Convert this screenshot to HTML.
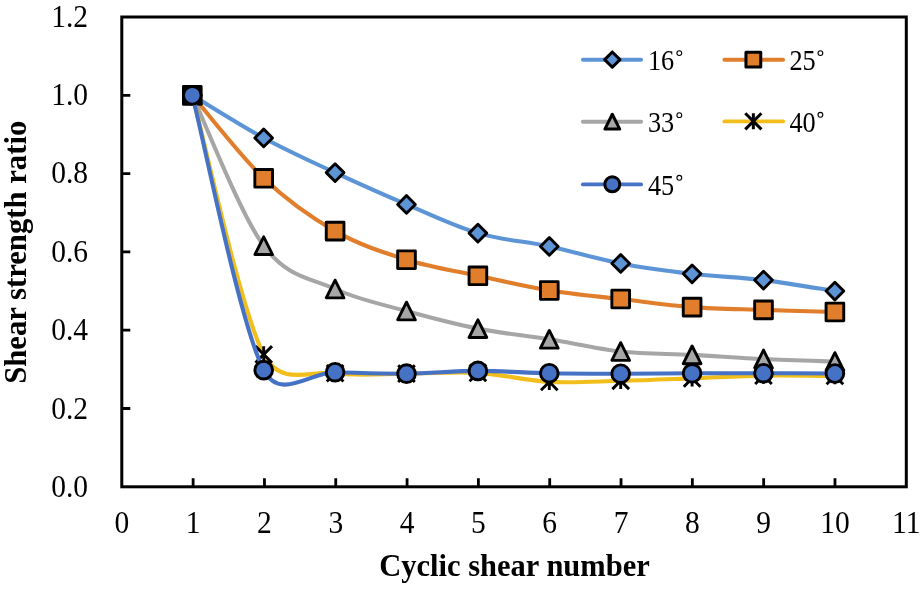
<!DOCTYPE html>
<html><head><meta charset="utf-8"><title>Shear strength ratio vs cyclic shear number</title>
<style>html,body{margin:0;padding:0;background:#fff;}svg{display:block;}text{font-family:"Liberation Serif",serif;}</style></head>
<body>
<svg width="923" height="589" viewBox="0 0 923 589" style="filter:blur(0.35px)">
<rect width="923" height="589" fill="#fff"/>
<rect x="121.80" y="17.00" width="784.50" height="469.80" fill="none" stroke="#000" stroke-width="3"/>
<path d="M193.12,486.80 V478.30 M264.44,486.80 V478.30 M335.75,486.80 V478.30 M407.07,486.80 V478.30 M478.39,486.80 V478.30 M549.71,486.80 V478.30 M621.03,486.80 V478.30 M692.35,486.80 V478.30 M763.66,486.80 V478.30 M834.98,486.80 V478.30 M121.80,408.50 H130.30 M121.80,330.20 H130.30 M121.80,251.90 H130.30 M121.80,173.60 H130.30 M121.80,95.30 H130.30" stroke="#000" stroke-width="2.8" fill="none"/>
<g font-family="'Liberation Serif', serif" font-size="29.5" fill="#000">
<text transform="translate(121.80,533.0) scale(1,1.07)" text-anchor="middle">0</text>
<text transform="translate(193.12,533.0) scale(1,1.07)" text-anchor="middle">1</text>
<text transform="translate(264.44,533.0) scale(1,1.07)" text-anchor="middle">2</text>
<text transform="translate(335.75,533.0) scale(1,1.07)" text-anchor="middle">3</text>
<text transform="translate(407.07,533.0) scale(1,1.07)" text-anchor="middle">4</text>
<text transform="translate(478.39,533.0) scale(1,1.07)" text-anchor="middle">5</text>
<text transform="translate(549.71,533.0) scale(1,1.07)" text-anchor="middle">6</text>
<text transform="translate(621.03,533.0) scale(1,1.07)" text-anchor="middle">7</text>
<text transform="translate(692.35,533.0) scale(1,1.07)" text-anchor="middle">8</text>
<text transform="translate(763.66,533.0) scale(1,1.07)" text-anchor="middle">9</text>
<text transform="translate(834.98,533.0) scale(1,1.07)" text-anchor="middle">10</text>
<text transform="translate(906.30,533.0) scale(1,1.07)" text-anchor="middle">11</text>
<text transform="translate(88,497.10) scale(1,1.07)" text-anchor="end">0.0</text>
<text transform="translate(88,418.68) scale(1,1.07)" text-anchor="end">0.2</text>
<text transform="translate(88,340.26) scale(1,1.07)" text-anchor="end">0.4</text>
<text transform="translate(88,261.84) scale(1,1.07)" text-anchor="end">0.6</text>
<text transform="translate(88,183.42) scale(1,1.07)" text-anchor="end">0.8</text>
<text transform="translate(88,105.00) scale(1,1.07)" text-anchor="end">1.0</text>
<text transform="translate(88,26.58) scale(1,1.07)" text-anchor="end">1.2</text>
</g>
<text x="514.5" y="575.8" text-anchor="middle" font-family="'Liberation Serif', serif" font-weight="bold" font-size="30.5" fill="#000">Cyclic shear number</text>
<text transform="translate(25.6,252.3) rotate(-90)" text-anchor="middle" font-family="'Liberation Serif', serif" font-weight="bold" font-size="30.7" fill="#000">Shear strength ratio</text>
<path d="M192.30,95.30 C204.20,102.41 239.90,125.09 263.70,137.97 C287.50,150.86 311.30,161.55 335.10,172.62 C358.90,183.69 382.70,194.33 406.50,204.41 C430.30,214.49 454.10,226.11 477.90,233.11 C501.70,240.11 525.50,241.37 549.30,246.42 C573.10,251.47 596.90,258.84 620.70,263.41 C644.50,267.98 668.30,271.04 692.10,273.82 C715.90,276.60 739.70,277.21 763.50,280.09 C787.30,282.97 823.00,289.26 834.90,291.09" fill="none" stroke="#5D94D6" stroke-width="4.10" stroke-linecap="round" stroke-linejoin="round"/>
<path d="M192.30,86.45 L201.15,95.30 L192.30,104.15 L183.45,95.30 Z" fill="#5D94D6" stroke="#000" stroke-width="2.90" stroke-linejoin="round"/>
<path d="M263.70,129.12 L272.55,137.97 L263.70,146.82 L254.85,137.97 Z" fill="#5D94D6" stroke="#000" stroke-width="2.90" stroke-linejoin="round"/>
<path d="M335.10,163.77 L343.95,172.62 L335.10,181.47 L326.25,172.62 Z" fill="#5D94D6" stroke="#000" stroke-width="2.90" stroke-linejoin="round"/>
<path d="M406.50,195.56 L415.35,204.41 L406.50,213.26 L397.65,204.41 Z" fill="#5D94D6" stroke="#000" stroke-width="2.90" stroke-linejoin="round"/>
<path d="M477.90,224.26 L486.75,233.11 L477.90,241.96 L469.05,233.11 Z" fill="#5D94D6" stroke="#000" stroke-width="2.90" stroke-linejoin="round"/>
<path d="M549.30,237.57 L558.15,246.42 L549.30,255.27 L540.45,246.42 Z" fill="#5D94D6" stroke="#000" stroke-width="2.90" stroke-linejoin="round"/>
<path d="M620.70,254.56 L629.55,263.41 L620.70,272.26 L611.85,263.41 Z" fill="#5D94D6" stroke="#000" stroke-width="2.90" stroke-linejoin="round"/>
<path d="M692.10,264.97 L700.95,273.82 L692.10,282.67 L683.25,273.82 Z" fill="#5D94D6" stroke="#000" stroke-width="2.90" stroke-linejoin="round"/>
<path d="M763.50,271.24 L772.35,280.09 L763.50,288.94 L754.65,280.09 Z" fill="#5D94D6" stroke="#000" stroke-width="2.90" stroke-linejoin="round"/>
<path d="M834.90,282.24 L843.75,291.09 L834.90,299.94 L826.05,291.09 Z" fill="#5D94D6" stroke="#000" stroke-width="2.90" stroke-linejoin="round"/>
<path d="M192.30,95.30 C204.20,109.13 239.90,155.66 263.70,178.30 C287.50,200.94 311.30,217.58 335.10,231.15 C358.90,244.72 382.70,252.29 406.50,259.73 C430.30,267.17 454.10,270.65 477.90,275.78 C501.70,280.91 525.50,286.63 549.30,290.50 C573.10,294.37 596.90,296.23 620.70,299.00 C644.50,301.76 668.30,305.29 692.10,307.10 C715.90,308.91 739.70,309.03 763.50,309.84 C787.30,310.66 823.00,311.64 834.90,312.00" fill="none" stroke="#E07E2B" stroke-width="4.10" stroke-linecap="round" stroke-linejoin="round"/>
<rect x="183.45" y="86.45" width="17.70" height="17.70" fill="#E07E2B" stroke="#000" stroke-width="2.90" stroke-linejoin="round"/>
<rect x="254.85" y="169.45" width="17.70" height="17.70" fill="#E07E2B" stroke="#000" stroke-width="2.90" stroke-linejoin="round"/>
<rect x="326.25" y="222.30" width="17.70" height="17.70" fill="#E07E2B" stroke="#000" stroke-width="2.90" stroke-linejoin="round"/>
<rect x="397.65" y="250.88" width="17.70" height="17.70" fill="#E07E2B" stroke="#000" stroke-width="2.90" stroke-linejoin="round"/>
<rect x="469.05" y="266.93" width="17.70" height="17.70" fill="#E07E2B" stroke="#000" stroke-width="2.90" stroke-linejoin="round"/>
<rect x="540.45" y="281.65" width="17.70" height="17.70" fill="#E07E2B" stroke="#000" stroke-width="2.90" stroke-linejoin="round"/>
<rect x="611.85" y="290.15" width="17.70" height="17.70" fill="#E07E2B" stroke="#000" stroke-width="2.90" stroke-linejoin="round"/>
<rect x="683.25" y="298.25" width="17.70" height="17.70" fill="#E07E2B" stroke="#000" stroke-width="2.90" stroke-linejoin="round"/>
<rect x="754.65" y="300.99" width="17.70" height="17.70" fill="#E07E2B" stroke="#000" stroke-width="2.90" stroke-linejoin="round"/>
<rect x="826.05" y="303.15" width="17.70" height="17.70" fill="#E07E2B" stroke="#000" stroke-width="2.90" stroke-linejoin="round"/>
<path d="M192.30,95.30 C204.20,120.37 239.90,213.43 263.70,245.71 C287.50,278.00 311.30,278.13 335.10,289.01 C358.90,299.90 382.70,304.41 406.50,311.02 C430.30,317.62 454.10,323.92 477.90,328.63 C501.70,333.35 525.50,335.47 549.30,339.28 C573.10,343.09 596.90,348.90 620.70,351.50 C644.50,354.09 668.30,353.62 692.10,354.86 C715.90,356.11 739.70,357.87 763.50,358.98 C787.30,360.08 823.00,361.10 834.90,361.52" fill="none" stroke="#A6A6A6" stroke-width="4.10" stroke-linecap="round" stroke-linejoin="round"/>
<path d="M192.30,86.45 L201.15,104.15 L183.45,104.15 Z" fill="#A6A6A6" stroke="#000" stroke-width="2.90" stroke-linejoin="round"/>
<path d="M263.70,236.86 L272.55,254.56 L254.85,254.56 Z" fill="#A6A6A6" stroke="#000" stroke-width="2.90" stroke-linejoin="round"/>
<path d="M335.10,280.16 L343.95,297.86 L326.25,297.86 Z" fill="#A6A6A6" stroke="#000" stroke-width="2.90" stroke-linejoin="round"/>
<path d="M406.50,302.17 L415.35,319.87 L397.65,319.87 Z" fill="#A6A6A6" stroke="#000" stroke-width="2.90" stroke-linejoin="round"/>
<path d="M477.90,319.78 L486.75,337.48 L469.05,337.48 Z" fill="#A6A6A6" stroke="#000" stroke-width="2.90" stroke-linejoin="round"/>
<path d="M549.30,330.43 L558.15,348.13 L540.45,348.13 Z" fill="#A6A6A6" stroke="#000" stroke-width="2.90" stroke-linejoin="round"/>
<path d="M620.70,342.65 L629.55,360.35 L611.85,360.35 Z" fill="#A6A6A6" stroke="#000" stroke-width="2.90" stroke-linejoin="round"/>
<path d="M692.10,346.01 L700.95,363.71 L683.25,363.71 Z" fill="#A6A6A6" stroke="#000" stroke-width="2.90" stroke-linejoin="round"/>
<path d="M763.50,350.13 L772.35,367.83 L754.65,367.83 Z" fill="#A6A6A6" stroke="#000" stroke-width="2.90" stroke-linejoin="round"/>
<path d="M834.90,352.67 L843.75,370.37 L826.05,370.37 Z" fill="#A6A6A6" stroke="#000" stroke-width="2.90" stroke-linejoin="round"/>
<path d="M192.30,95.30 C204.20,138.50 239.90,308.15 263.70,354.47 C280.57,387.31 311.30,370.07 335.10,373.26 C358.90,376.46 382.70,373.72 406.50,373.66 C430.30,373.59 454.10,371.50 477.90,372.87 C501.70,374.24 525.50,380.55 549.30,381.88 C573.10,383.20 596.90,381.41 620.70,380.82 C644.50,380.23 668.30,379.22 692.10,378.35 C715.90,377.49 739.70,376.01 763.50,375.61 C787.30,375.22 823.00,375.94 834.90,376.01" fill="none" stroke="#F2BE1C" stroke-width="4.10" stroke-linecap="round" stroke-linejoin="round"/>
<path d="M183.98,86.98 L200.62,103.62 M183.98,103.62 L200.62,86.98 M192.30,87.11 L192.30,103.49" fill="none" stroke="#000" stroke-width="2.90"/>
<path d="M255.38,346.15 L272.02,362.79 M255.38,362.79 L272.02,346.15 M263.70,346.29 L263.70,362.66" fill="none" stroke="#000" stroke-width="2.90"/>
<path d="M326.78,364.95 L343.42,381.58 M326.78,381.58 L343.42,364.95 M335.10,365.08 L335.10,381.45" fill="none" stroke="#000" stroke-width="2.90"/>
<path d="M398.18,365.34 L414.82,381.98 M398.18,381.98 L414.82,365.34 M406.50,365.47 L406.50,381.84" fill="none" stroke="#000" stroke-width="2.90"/>
<path d="M469.58,364.55 L486.22,381.19 M469.58,381.19 L486.22,364.55 M477.90,364.69 L477.90,381.06" fill="none" stroke="#000" stroke-width="2.90"/>
<path d="M540.98,373.56 L557.62,390.20 M540.98,390.20 L557.62,373.56 M549.30,373.69 L549.30,390.06" fill="none" stroke="#000" stroke-width="2.90"/>
<path d="M612.38,372.50 L629.02,389.14 M612.38,389.14 L629.02,372.50 M620.70,372.63 L620.70,389.01" fill="none" stroke="#000" stroke-width="2.90"/>
<path d="M683.78,370.04 L700.42,386.67 M683.78,386.67 L700.42,370.04 M692.10,370.17 L692.10,386.54" fill="none" stroke="#000" stroke-width="2.90"/>
<path d="M755.18,367.30 L771.82,383.93 M755.18,383.93 L771.82,367.30 M763.50,367.43 L763.50,383.80" fill="none" stroke="#000" stroke-width="2.90"/>
<path d="M826.58,367.69 L843.22,384.32 M826.58,384.32 L843.22,367.69 M834.90,367.82 L834.90,384.19" fill="none" stroke="#000" stroke-width="2.90"/>
<path d="M192.30,95.30 C204.20,141.11 239.90,323.98 263.70,370.13 C280.07,401.88 311.30,371.62 335.10,372.21 C358.90,372.80 382.70,373.87 406.50,373.66 C430.30,373.44 454.10,370.98 477.90,370.92 C501.70,370.85 525.50,372.80 549.30,373.26 C573.10,373.73 596.90,373.69 620.70,373.70 C644.50,373.70 668.30,373.39 692.10,373.30 C715.90,373.22 739.70,373.15 763.50,373.19 C787.30,373.22 823.00,373.45 834.90,373.50" fill="none" stroke="#4572C5" stroke-width="4.10" stroke-linecap="round" stroke-linejoin="round"/>
<circle cx="192.30" cy="95.30" r="8.85" fill="#4572C5" stroke="#000" stroke-width="2.90"/>
<circle cx="263.70" cy="370.13" r="8.85" fill="#4572C5" stroke="#000" stroke-width="2.90"/>
<circle cx="335.10" cy="372.21" r="8.85" fill="#4572C5" stroke="#000" stroke-width="2.90"/>
<circle cx="406.50" cy="373.66" r="8.85" fill="#4572C5" stroke="#000" stroke-width="2.90"/>
<circle cx="477.90" cy="370.92" r="8.85" fill="#4572C5" stroke="#000" stroke-width="2.90"/>
<circle cx="549.30" cy="373.26" r="8.85" fill="#4572C5" stroke="#000" stroke-width="2.90"/>
<circle cx="620.70" cy="373.70" r="8.85" fill="#4572C5" stroke="#000" stroke-width="2.90"/>
<circle cx="692.10" cy="373.30" r="8.85" fill="#4572C5" stroke="#000" stroke-width="2.90"/>
<circle cx="763.50" cy="373.19" r="8.85" fill="#4572C5" stroke="#000" stroke-width="2.90"/>
<circle cx="834.90" cy="373.50" r="8.85" fill="#4572C5" stroke="#000" stroke-width="2.90"/>
<path d="M582.90,59.70 H641.10" stroke="#5D94D6" stroke-width="3.9" stroke-linecap="round" fill="none"/>
<path d="M612.30,51.95 L619.95,59.60 L612.30,67.25 L604.65,59.60 Z" fill="#5D94D6" stroke="#000" stroke-width="3.00" stroke-linejoin="round"/>
<text transform="translate(647.90,70.00) scale(0.94,1.045)" font-family="'Liberation Serif', serif" font-size="28" fill="#000">16</text>
<circle cx="679.30" cy="53.10" r="2.4" fill="none" stroke="#000" stroke-width="1.1"/>
<path d="M724.40,59.70 H783.10" stroke="#E07E2B" stroke-width="3.9" stroke-linecap="round" fill="none"/>
<rect x="745.95" y="52.20" width="14.80" height="14.80" fill="#E07E2B" stroke="#000" stroke-width="3.00" stroke-linejoin="round"/>
<text transform="translate(789.40,70.00) scale(0.94,1.045)" font-family="'Liberation Serif', serif" font-size="28" fill="#000">25</text>
<circle cx="820.40" cy="53.10" r="2.4" fill="none" stroke="#000" stroke-width="1.1"/>
<path d="M582.90,121.75 H641.10" stroke="#A6A6A6" stroke-width="3.9" stroke-linecap="round" fill="none"/>
<path d="M612.30,114.25 L619.70,129.05 L604.90,129.05 Z" fill="#A6A6A6" stroke="#000" stroke-width="3.00" stroke-linejoin="round"/>
<text transform="translate(647.90,132.05) scale(0.94,1.045)" font-family="'Liberation Serif', serif" font-size="28" fill="#000">33</text>
<circle cx="679.30" cy="115.15" r="2.4" fill="none" stroke="#000" stroke-width="1.1"/>
<path d="M724.40,121.40 H783.10" stroke="#F2BE1C" stroke-width="3.9" stroke-linecap="round" fill="none"/>
<path d="M745.27,113.22 L761.43,129.38 M745.27,129.38 L761.43,113.22 M753.35,113.35 L753.35,129.26" fill="none" stroke="#000" stroke-width="3.00"/>
<text transform="translate(789.40,131.70) scale(0.94,1.045)" font-family="'Liberation Serif', serif" font-size="28" fill="#000">40</text>
<circle cx="820.40" cy="114.80" r="2.4" fill="none" stroke="#000" stroke-width="1.1"/>
<path d="M582.90,184.40 H641.10" stroke="#4572C5" stroke-width="3.9" stroke-linecap="round" fill="none"/>
<circle cx="612.30" cy="184.30" r="7.50" fill="#4572C5" stroke="#000" stroke-width="3.00"/>
<text transform="translate(647.90,194.70) scale(0.94,1.045)" font-family="'Liberation Serif', serif" font-size="28" fill="#000">45</text>
<circle cx="679.30" cy="177.80" r="2.4" fill="none" stroke="#000" stroke-width="1.1"/>
</svg>
</body></html>
